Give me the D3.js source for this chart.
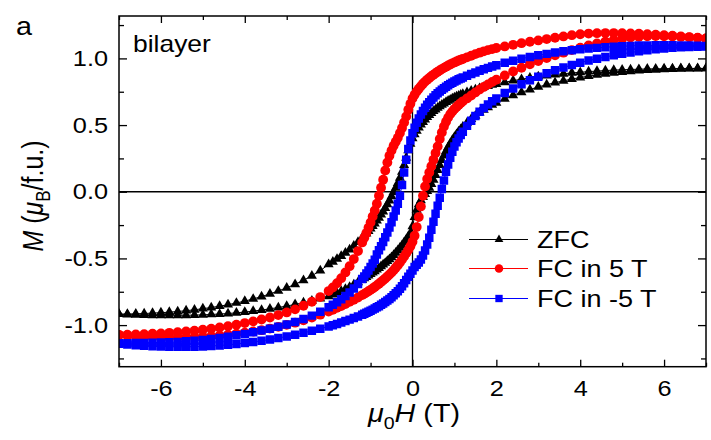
<!DOCTYPE html>
<html><head><meta charset="utf-8">
<script src="https://cdn.jsdelivr.net/npm/d3@7"></script>
<style>body{margin:0;background:#fff;} svg{display:block;} text{font-family:"Liberation Sans",Arial,sans-serif;fill:#000;}</style>
</head><body><svg id="chart" width="711" height="440"></svg>
<script>
// Applied field mu0H (T), shared grid for every branch (read order +7 -> -7)
const fields=[7.0,6.8,6.6,6.4,6.2,6.0,5.8,5.6,5.4,5.2,5.0,4.8,4.6,4.4,4.2,4.0,3.8,3.6,3.4,3.2,3.0,2.8,2.6,2.4,2.2,
2.0,1.9,1.8,1.7,1.6,1.5,1.4,1.3,
1.2,1.15,1.1,1.05,1.0,0.95,0.9,0.85,0.8,0.75,0.7,0.65,0.6,0.55,0.5,0.45,0.4,0.35,0.3,0.25,0.2,0.15,0.1,0.05,0,
-0.05,-0.1,-0.15,-0.2,-0.25,-0.3,-0.35,-0.4,-0.45,-0.5,-0.55,-0.6,-0.65,-0.7,-0.75,-0.8,-0.85,-0.9,-0.95,-1.0,-1.05,-1.1,-1.15,-1.2,
-1.3,-1.4,-1.5,-1.6,-1.7,-1.8,-1.9,-2.0,
-2.2,-2.4,-2.6,-2.8,-3.0,-3.2,-3.4,-3.6,-3.8,-4.0,-4.2,-4.4,-4.6,-4.8,-5.0,-5.2,-5.4,-5.6,-5.8,-6.0,-6.2,-6.4,-6.6,-6.8,-7.0];

// ZFC: descending and ascending branches (M in muB/f.u.)
const zfcDown=[0.925,0.925,0.925,0.925,0.924,0.923,0.922,0.921,0.919,0.917,0.915,0.912,0.909,0.905,0.901,0.896,0.891,0.885,0.878,0.871,0.863,0.854,0.844,0.833,0.821,
0.808,0.801,0.793,0.785,0.776,0.766,0.756,0.745,
0.733,0.727,0.720,0.713,0.706,0.698,0.690,0.681,0.672,0.662,0.652,0.641,0.629,0.617,0.604,0.590,0.575,0.559,0.542,0.523,0.503,0.481,0.457,0.430,0.400,
0.360,0.310,0.255,0.200,0.150,0.105,0.065,0.030,-0.003,-0.035,-0.066,-0.095,-0.122,-0.148,-0.172,-0.195,-0.217,-0.238,-0.258,-0.277,-0.295,-0.313,-0.330,-0.346,
-0.377,-0.406,-0.433,-0.458,-0.482,-0.504,-0.525,-0.545,
-0.592,-0.630,-0.664,-0.694,-0.720,-0.744,-0.766,-0.786,-0.804,-0.820,-0.834,-0.847,-0.858,-0.868,-0.877,-0.885,-0.892,-0.898,-0.903,-0.907,-0.910,-0.913,-0.915,-0.917,-0.918];
const zfcUp=[0.925,0.924,0.923,0.922,0.920,0.918,0.915,0.912,0.908,0.903,0.897,0.891,0.884,0.876,0.867,0.857,0.845,0.832,0.818,0.803,0.786,0.767,0.746,0.723,0.697,
0.667,0.651,0.633,0.614,0.593,0.570,0.545,0.517,
0.486,0.469,0.451,0.431,0.410,0.387,0.362,0.335,0.305,0.272,0.237,0.200,0.162,0.125,0.090,0.058,0.030,0.005,-0.018,-0.040,-0.065,-0.095,-0.135,-0.190,-0.260,
-0.310,-0.335,-0.358,-0.380,-0.401,-0.421,-0.440,-0.458,-0.475,-0.491,-0.506,-0.520,-0.534,-0.547,-0.560,-0.572,-0.584,-0.596,-0.607,-0.618,-0.629,-0.640,-0.650,-0.660,
-0.679,-0.697,-0.714,-0.730,-0.745,-0.759,-0.772,-0.785,
-0.802,-0.818,-0.832,-0.845,-0.857,-0.868,-0.878,-0.887,-0.895,-0.902,-0.908,-0.913,-0.917,-0.920,-0.923,-0.925,-0.926,-0.927,-0.927,-0.927,-0.926,-0.925,-0.923,-0.921,-0.918];

// FC in 5 T
const fc5Down=[1.150,1.155,1.160,1.165,1.170,1.174,1.178,1.182,1.185,1.187,1.189,1.190,1.190,1.189,1.186,1.181,1.174,1.165,1.155,1.145,1.135,1.125,1.114,1.102,1.090,
1.078,1.070,1.062,1.053,1.043,1.032,1.020,1.008,
0.996,0.990,0.984,0.977,0.970,0.963,0.955,0.947,0.938,0.929,0.920,0.910,0.900,0.889,0.878,0.866,0.853,0.840,0.826,0.810,0.792,0.773,0.752,0.728,0.700,
0.660,0.615,0.565,0.520,0.478,0.440,0.405,0.375,0.345,0.310,0.270,0.220,0.160,0.090,0.030,-0.030,-0.090,-0.140,-0.185,-0.230,-0.270,-0.310,-0.345,-0.380,
-0.445,-0.505,-0.558,-0.605,-0.648,-0.686,-0.718,-0.745,
-0.790,-0.825,-0.855,-0.882,-0.905,-0.925,-0.943,-0.958,-0.972,-0.985,-0.997,-1.008,-1.018,-1.027,-1.035,-1.042,-1.048,-1.053,-1.058,-1.062,-1.065,-1.068,-1.070,-1.072,-1.073];
const fc5Up=[1.150,1.154,1.158,1.161,1.164,1.166,1.167,1.166,1.162,1.156,1.148,1.138,1.126,1.112,1.097,1.080,1.062,1.043,1.023,1.002,0.980,0.956,0.930,0.902,0.872,
0.840,0.823,0.805,0.786,0.766,0.745,0.722,0.700,
0.678,0.665,0.651,0.636,0.620,0.602,0.582,0.556,0.525,0.490,0.445,0.395,0.340,0.290,0.240,0.192,0.145,0.095,0.040,-0.030,-0.110,-0.190,-0.265,-0.330,-0.375,
-0.408,-0.436,-0.462,-0.486,-0.509,-0.531,-0.551,-0.570,-0.588,-0.605,-0.621,-0.636,-0.650,-0.664,-0.677,-0.690,-0.702,-0.714,-0.725,-0.736,-0.746,-0.756,-0.766,-0.775,
-0.793,-0.810,-0.826,-0.842,-0.857,-0.871,-0.885,-0.898,
-0.922,-0.944,-0.964,-0.982,-0.998,-1.013,-1.026,-1.038,-1.048,-1.057,-1.065,-1.072,-1.078,-1.083,-1.087,-1.090,-1.092,-1.093,-1.093,-1.092,-1.090,-1.088,-1.085,-1.080,-1.075];

// FC in -5 T
const fcm5Down=[1.093,1.095,1.096,1.097,1.098,1.098,1.098,1.097,1.096,1.094,1.091,1.088,1.084,1.079,1.074,1.068,1.061,1.053,1.044,1.034,1.023,1.011,0.998,0.983,0.967,
0.949,0.939,0.929,0.918,0.907,0.895,0.883,0.870,
0.857,0.850,0.843,0.835,0.827,0.818,0.809,0.799,0.788,0.777,0.765,0.752,0.738,0.723,0.707,0.690,0.672,0.652,0.630,0.606,0.580,0.550,0.517,0.480,0.438,
0.385,0.320,0.240,0.145,0.050,-0.030,-0.090,-0.140,-0.185,-0.228,-0.268,-0.306,-0.342,-0.376,-0.408,-0.438,-0.470,-0.510,-0.538,-0.565,-0.590,-0.613,-0.635,-0.655,
-0.692,-0.725,-0.755,-0.782,-0.806,-0.828,-0.848,-0.866,
-0.900,-0.929,-0.954,-0.976,-0.995,-1.012,-1.027,-1.041,-1.054,-1.066,-1.077,-1.087,-1.096,-1.104,-1.111,-1.117,-1.122,-1.126,-1.129,-1.131,-1.133,-1.134,-1.135,-1.136,-1.136];
const fcm5Up=[1.090,1.088,1.086,1.083,1.079,1.074,1.068,1.061,1.053,1.044,1.034,1.023,1.011,0.998,0.984,0.968,0.951,0.932,0.911,0.888,0.863,0.836,0.807,0.775,0.740,
0.700,0.678,0.654,0.628,0.600,0.568,0.533,0.494,
0.450,0.426,0.400,0.372,0.340,0.300,0.255,0.205,0.150,0.085,0.020,-0.045,-0.105,-0.165,-0.225,-0.285,-0.345,-0.395,-0.440,-0.478,-0.508,-0.530,-0.548,-0.565,-0.590,
-0.615,-0.638,-0.662,-0.686,-0.708,-0.728,-0.746,-0.762,-0.777,-0.791,-0.804,-0.816,-0.827,-0.838,-0.848,-0.858,-0.867,-0.876,-0.884,-0.892,-0.900,-0.908,-0.915,-0.922,
-0.935,-0.947,-0.959,-0.970,-0.981,-0.991,-1.001,-1.010,
-1.027,-1.043,-1.058,-1.072,-1.085,-1.097,-1.108,-1.118,-1.127,-1.135,-1.142,-1.148,-1.153,-1.157,-1.160,-1.162,-1.163,-1.163,-1.162,-1.160,-1.158,-1.155,-1.151,-1.146,-1.140];

const seriesNames=['ZFC','FC in 5 T','FC in -5 T'];
const seriesColors=['#000000','#ff0000','#0000ff'];
const xMajor=[-6,-4,-2,0,2,4,6], xMinor=[-7,-5,-3,-1,1,3,5,7];
const yMajor=[-1.0,-0.5,0.0,0.5,1.0], yMinor=[-1.25,-0.75,-0.25,0.25,0.75,1.25];

const SX=1.15;
const P={left:119,right:706,top:16,bottom:366.7};
const svg=d3.select('#chart');
const x=d3.scaleLinear().domain([-7,7]).range([P.left,P.right]);
const y=d3.scaleLinear().domain([-1.312,1.318]).range([P.bottom,P.top]);

svg.append('defs').append('clipPath').attr('id','clip').append('rect')
  .attr('x',P.left).attr('y',P.top).attr('width',P.right-P.left).attr('height',P.bottom-P.top);

// zero lines
svg.append('line').attr('x1',P.left).attr('x2',P.right).attr('y1',y(0)).attr('y2',y(0)).attr('stroke','#000').attr('stroke-width',1.3);
svg.append('line').attr('x1',x(0)).attr('x2',x(0)).attr('y1',P.top).attr('y2',P.bottom).attr('stroke','#000').attr('stroke-width',1.3);

const symbols=[d3.symbolTriangle,d3.symbolCircle,d3.symbolSquare];
const sizes=[44,76,72];
const data=[[zfcDown,zfcUp],[fc5Down,fc5Up],[fcm5Down,fcm5Up]];
const g=svg.append('g').attr('clip-path','url(#clip)');
data.forEach((br,k)=>{
  const pts=fields.map((f,i)=>[f,br[0][i]]).concat(fields.map((f,i)=>[f,br[1][i]]).reverse());
  g.append('path').datum(pts).attr('fill','none').attr('stroke',seriesColors[k]).attr('stroke-width',1)
    .attr('d',d3.line().x(d=>x(d[0])).y(d=>y(d[1])));
  g.append('g').selectAll('path').data(pts).join('path')
    .attr('transform',d=>`translate(${x(d[0])},${y(d[1])})`)
    .attr('d',d3.symbol(symbols[k],sizes[k])).attr('fill',seriesColors[k]);
});

// axes
function styleAxis(sel){sel.select('.domain').remove();sel.selectAll('line').attr('stroke','#000').attr('stroke-width',1.3);}
const ax=svg.append('g');
ax.append('g').attr('transform',`translate(0,${P.bottom})`)
  .call(d3.axisBottom(x).tickValues(xMajor).tickSize(-7).tickPadding(14).tickFormat(d=>String(d))).call(styleAxis);
ax.append('g').attr('transform',`translate(0,${P.bottom})`)
  .call(d3.axisBottom(x).tickValues(xMinor).tickSize(-4).tickFormat('')).call(styleAxis);
ax.append('g').attr('transform',`translate(0,${P.top})`)
  .call(d3.axisTop(x).tickValues(xMajor).tickSize(-7).tickFormat('')).call(styleAxis);
ax.append('g').attr('transform',`translate(0,${P.top})`)
  .call(d3.axisTop(x).tickValues(xMinor).tickSize(-4).tickFormat('')).call(styleAxis);
ax.append('g').attr('transform',`translate(${P.left},0)`)
  .call(d3.axisLeft(y).tickValues(yMajor).tickSize(-8).tickPadding(11).tickFormat(d=>d.toFixed(1))).call(styleAxis);
ax.append('g').attr('transform',`translate(${P.left},0)`)
  .call(d3.axisLeft(y).tickValues(yMinor).tickSize(-5).tickFormat('')).call(styleAxis);
ax.append('g').attr('transform',`translate(${P.right},0)`)
  .call(d3.axisRight(y).tickValues(yMajor).tickSize(-8).tickFormat('')).call(styleAxis);
ax.append('g').attr('transform',`translate(${P.right},0)`)
  .call(d3.axisRight(y).tickValues(yMinor).tickSize(-5).tickFormat('')).call(styleAxis);
ax.selectAll('.tick text').attr('font-size',22).attr('font-family','"Liberation Sans",Arial,sans-serif').attr('fill','#000');
ax.selectAll('.tick text').each(function(){const t=d3.select(this);
  const xv=+t.attr('x')||0; t.attr('x',xv/SX).attr('transform',`scale(${SX},1)`);});
svg.append('rect').attr('x',P.left).attr('y',P.top).attr('width',P.right-P.left).attr('height',P.bottom-P.top)
  .attr('fill','none').attr('stroke','#000').attr('stroke-width',1.5);

// texts
svg.append('text').attr('transform',`translate(16,35) scale(${SX},1)`).attr('font-size',25).text('a');
svg.append('text').attr('transform',`translate(133,51.5) scale(${SX},1)`).attr('font-size',23).text('bilayer');
const xl=svg.append('text').attr('transform',`translate(414,421.5) scale(${SX},1)`).attr('font-size',25).attr('text-anchor','middle');
xl.append('tspan').attr('font-style','italic').text('μ');
xl.append('tspan').attr('font-size',17).attr('dy',7).text('0');
xl.append('tspan').attr('font-style','italic').attr('dy',-7).text('H');
xl.append('tspan').text(' (T)');
const yl=svg.append('text').attr('transform',`translate(43,196) scale(${SX},1) rotate(-90)`).attr('font-size',25).attr('text-anchor','middle');
yl.append('tspan').attr('font-style','italic').text('M');
yl.append('tspan').text(' (');
yl.append('tspan').attr('font-style','italic').text('μ');
yl.append('tspan').attr('font-size',17).attr('dy',6).text('B');
yl.append('tspan').attr('dy',-6).text('/f.u.)');

// legend
const legY=[239.5,268.5,298.5];
const lg=svg.append('g');
seriesNames.forEach((n,k)=>{
  lg.append('line').attr('x1',469).attr('x2',528).attr('y1',legY[k]).attr('y2',legY[k]).attr('stroke',seriesColors[k]).attr('stroke-width',1.2);
  lg.append('path').attr('transform',`translate(499,${legY[k]})`).attr('d',d3.symbol(symbols[k],sizes[k]*0.75)).attr('fill',seriesColors[k]);
  lg.append('text').attr('transform',`translate(537,${legY[k]+8.5}) scale(${SX},1)`).attr('font-size',23.5).text(n);
});
</script></body></html>
